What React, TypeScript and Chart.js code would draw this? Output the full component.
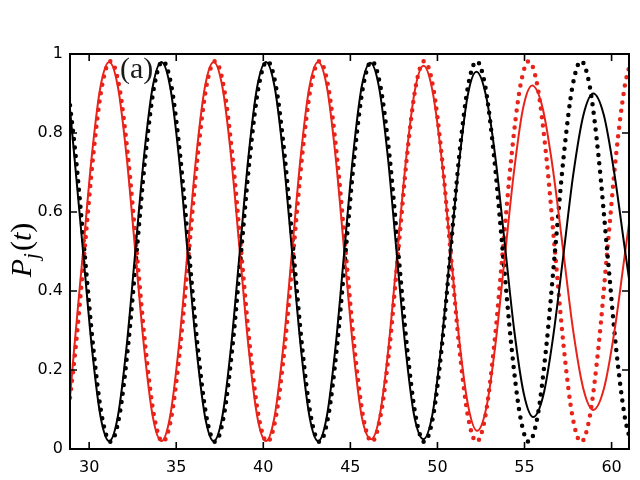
import React, { useEffect, useRef } from "react";
import { Chart, registerables } from "chart.js";

Chart.register(...registerables);

// ---- data ----
const xTicks = [30, 35, 40, 45, 50, 55, 60];
const yTicks = [0, 0.2, 0.4, 0.6, 0.8, 1];

// dotted curves (sampled times)
const tDot = [
  28.9,
  29.23, 29.73, 30.23, 30.73, 31.23, 31.73, 32.23, 32.73, 33.23, 33.73, 34.23, 34.73,
  35.23, 35.73, 36.23, 36.73, 37.23, 37.73, 38.23, 38.73, 39.23, 39.73, 40.23, 40.73,
  41.23, 41.73, 42.23, 42.73, 43.23, 43.73, 44.23, 44.73, 45.23, 45.73, 46.23, 46.73,
  47.25, 47.75, 48.25, 48.75, 49.25, 49.75, 50.25,
  50.75, 51.25, 51.75, 52.25, 52.75, 53.25, 53.75, 54.25, 54.75, 55.25, 55.75, 56.25,
  56.75, 57.25, 57.75, 58.25, 58.75, 59.25, 59.75, 60.25, 60.75,
  61.0,
];
const blackDot = [
  0.87,
  0.741, 0.5, 0.259, 0.083, 0.018, 0.083, 0.259, 0.5, 0.741, 0.917, 0.982, 0.917,
  0.741, 0.5, 0.259, 0.083, 0.018, 0.083, 0.259, 0.5, 0.741, 0.917, 0.982, 0.917,
  0.741, 0.5, 0.259, 0.083, 0.018, 0.083, 0.259, 0.5, 0.741, 0.917, 0.982, 0.917,
  0.741, 0.5, 0.259, 0.083, 0.018, 0.083, 0.259, 0.5, 0.741, 0.917, 0.982, 0.917,
  0.741, 0.5, 0.259, 0.083, 0.018, 0.083, 0.259, 0.5, 0.741, 0.917, 0.982, 0.917,
  0.741, 0.5, 0.259, 0.083,
  0.034,
];
const redDot = [
  0.13,
  0.259, 0.5, 0.741, 0.917, 0.982, 0.917, 0.741, 0.5, 0.259, 0.083, 0.018, 0.083,
  0.259, 0.5, 0.741, 0.917, 0.982, 0.917, 0.741, 0.5, 0.259, 0.083, 0.018, 0.083,
  0.259, 0.5, 0.741, 0.917, 0.982, 0.917, 0.741, 0.5, 0.259, 0.083, 0.018, 0.083,
  0.259, 0.5, 0.741, 0.917, 0.982, 0.917, 0.741, 0.5, 0.259, 0.083, 0.018, 0.083,
  0.259, 0.5, 0.741, 0.917, 0.982, 0.917, 0.741, 0.5, 0.259, 0.083, 0.018, 0.083,
  0.259, 0.5, 0.741, 0.917,
  0.966,
];

// solid curves
const tBlackLine = [
  28.9,
  29.15, 29.65, 30.15, 30.65, 31.15, 31.65, 32.15, 32.65, 33.15, 33.65, 34.15, 34.65,
  35.15, 35.65, 36.15, 36.65, 37.15, 37.65, 38.15, 38.65, 39.15, 39.65, 40.15, 40.65,
  41.15, 41.65, 42.15, 42.65, 43.15, 43.65, 44.15, 44.65, 45.15, 45.65, 46.15, 46.65,
  47.15, 47.65, 48.15, 48.65,
  49.2, 49.71, 50.21, 50.72, 51.23, 51.73,
  52.24, 52.78, 53.33, 53.87, 54.41, 54.96,
  55.5, 56.08, 56.65, 57.23, 57.8, 58.38,
  58.95, 59.55, 60.15, 60.75, 61.35,
];
const blackLine = [
  0.86,
  0.741, 0.5, 0.259, 0.083, 0.02, 0.083, 0.259, 0.5, 0.741, 0.917, 0.98, 0.917,
  0.741, 0.5, 0.259, 0.083, 0.02, 0.083, 0.259, 0.5, 0.741, 0.917, 0.98, 0.917,
  0.741, 0.5, 0.259, 0.083, 0.02, 0.083, 0.259, 0.5, 0.741, 0.917, 0.978, 0.915,
  0.74, 0.5, 0.262, 0.088,
  0.025, 0.087, 0.258, 0.49, 0.72, 0.893,
  0.955, 0.896, 0.737, 0.518, 0.3, 0.14,
  0.081, 0.136, 0.286, 0.49, 0.695, 0.845,
  0.9, 0.846, 0.7, 0.51, 0.32,
];
const tRedLine = [
  28.9,
  29.15, 29.65, 30.15, 30.65, 31.15, 31.65, 32.15, 32.65, 33.15, 33.65, 34.15, 34.65,
  35.15, 35.65, 36.15, 36.65, 37.15, 37.65, 38.15, 38.65, 39.15, 39.65, 40.15, 40.65,
  41.15, 41.65, 42.15, 42.65, 43.15, 43.65, 44.15, 44.65, 45.15, 45.65,
  46.2, 46.7, 47.2, 47.7, 48.2, 48.7,
  49.2, 49.71, 50.23, 50.74, 51.25, 51.77,
  52.28, 52.81, 53.33, 53.86, 54.39, 54.91,
  55.44, 56.03, 56.61, 57.2, 57.78, 58.37,
  58.95, 59.55, 60.15, 60.75, 61.35,
];
const redLine = [
  0.13,
  0.259, 0.5, 0.741, 0.917, 0.98, 0.917, 0.741, 0.5, 0.259, 0.083, 0.02, 0.083,
  0.259, 0.5, 0.741, 0.917, 0.98, 0.917, 0.741, 0.5, 0.259, 0.083, 0.02, 0.083,
  0.259, 0.5, 0.741, 0.917, 0.98, 0.917, 0.741, 0.5, 0.259, 0.083,
  0.025, 0.088, 0.261, 0.5, 0.734, 0.907,
  0.97, 0.908, 0.739, 0.508, 0.277, 0.108,
  0.046, 0.105, 0.265, 0.483, 0.7, 0.861,
  0.92, 0.865, 0.715, 0.51, 0.304, 0.154,
  0.099, 0.151, 0.294, 0.489, 0.684,
];

const RED = "#e8231a";
const BLACK = "#000000";

const pts = (xs: number[], ys: number[]) => xs.map((x, i) => ({ x, y: ys[i] }));

const framePlugin = {
  id: "frame",
  afterDatasetsDraw(chart: any) {
    const { ctx, chartArea: a, scales } = chart;
    const xs = scales.x;
    const ys = scales.y;
    ctx.save();
    ctx.strokeStyle = "#000";
    ctx.lineWidth = 2;
    ctx.strokeRect(a.left, a.top, a.right - a.left, a.bottom - a.top);
    ctx.lineWidth = 1.6;
    ctx.beginPath();
    for (const v of xTicks) {
      const p = xs.getPixelForValue(v);
      ctx.moveTo(p, a.bottom);
      ctx.lineTo(p, a.bottom - 7);
      ctx.moveTo(p, a.top);
      ctx.lineTo(p, a.top + 7);
    }
    for (const v of yTicks) {
      const p = ys.getPixelForValue(v);
      ctx.moveTo(a.left, p);
      ctx.lineTo(a.left + 7, p);
      ctx.moveTo(a.right, p);
      ctx.lineTo(a.right - 7, p);
    }
    ctx.stroke();

    // panel label
    ctx.font = '30px "Liberation Serif"';
    ctx.fillStyle = "#1a1a1a";
    ctx.textBaseline = "alphabetic";
    ctx.textAlign = "left";
    ctx.fillText("(a)", 120, 78);

    // y axis title P_j(t)
    const big = 'italic 30px "Liberation Serif"';
    const up = '30px "Liberation Serif"';
    const sub = 'italic 21px "Liberation Serif"';
    ctx.fillStyle = "#000";
    ctx.font = big;
    const wP = ctx.measureText("P").width;
    const wt = ctx.measureText("t").width;
    ctx.font = sub;
    const wj = ctx.measureText("j").width;
    ctx.font = up;
    const wl = ctx.measureText("(").width;
    const wr = ctx.measureText(")").width;
    const total = wP + wj + 2 + wl + wt + wr;
    ctx.translate(31, 250);
    ctx.rotate(-Math.PI / 2);
    let x = -total / 2;
    ctx.font = big;
    ctx.fillText("P", x, 0);
    x += wP;
    ctx.font = sub;
    ctx.fillText("j", x, 7);
    x += wj + 2;
    ctx.font = up;
    ctx.fillText("(", x, 0);
    x += wl;
    ctx.font = big;
    ctx.fillText("t", x, 0);
    x += wt;
    ctx.font = up;
    ctx.fillText(")", x, 0);
    ctx.restore();
  },
};

export default function App() {
  const ref = useRef<HTMLCanvasElement | null>(null);

  useEffect(() => {
    if (!ref.current) return;
    const dotted = (data: any, color: string) => ({
      data,
      borderColor: color,
      borderWidth: 4.5,
      borderDash: [0, 8.5],
      borderCapStyle: "round",
      pointRadius: 0,
      cubicInterpolationMode: "monotone",
      fill: false,
      order: 2,
    });
    const solid = (data: any, color: string) => ({
      data,
      borderColor: color,
      borderWidth: 2,
      pointRadius: 0,
      cubicInterpolationMode: "monotone",
      fill: false,
      order: 1,
    });
    const chart = new Chart(ref.current, {
      type: "line",
      data: {
        datasets: [
          solid(pts(tBlackLine, blackLine), BLACK) as any,
          solid(pts(tRedLine, redLine), RED) as any,
          dotted(pts(tDot, blackDot), BLACK) as any,
          dotted(pts(tDot, redDot), RED) as any,
        ],
      },
      options: {
        responsive: false,
        animation: false,
        events: [],
        layout: { padding: { left: 0, right: 11, top: 54, bottom: 0 } },
        plugins: { legend: { display: false }, tooltip: { enabled: false } },
        scales: {
          x: {
            type: "linear",
            min: 28.9,
            max: 61.0,
            grid: { display: false, drawTicks: false },
            border: { display: false },
            afterBuildTicks: (s: any) => {
              s.ticks = xTicks.map((v) => ({ value: v }));
            },
            afterFit: (s: any) => {
              s.height = 31;
            },
            ticks: {
              padding: 9,
              color: "#000",
              font: { family: '"DejaVu Sans"', size: 16 },
              maxRotation: 0,
              callback: (v: any) => String(v),
            },
          },
          y: {
            type: "linear",
            min: 0,
            max: 1,
            grid: { display: false, drawTicks: false },
            border: { display: false },
            afterBuildTicks: (s: any) => {
              s.ticks = yTicks.map((v) => ({ value: v }));
            },
            afterFit: (s: any) => {
              s.width = 70;
            },
            ticks: {
              padding: 7,
              color: "#000",
              font: { family: '"DejaVu Sans"', size: 16 },
              callback: (v: any) => (v === 0 ? "0" : v === 1 ? "1" : Number(v).toFixed(1)),
            },
          },
        },
      },
      plugins: [framePlugin],
    });
    return () => chart.destroy();
  }, []);

  return (
    <div style={{ position: "fixed", left: 0, top: 0, width: 640, height: 480, background: "#fff" }}>
      <canvas ref={ref} width={640} height={480} style={{ display: "block", width: 640, height: 480 }} />
    </div>
  );
}
